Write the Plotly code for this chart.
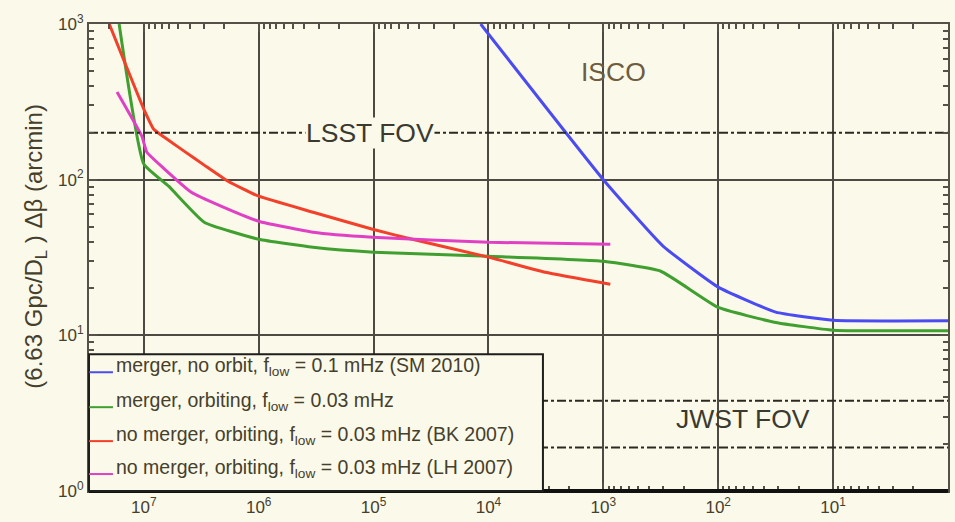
import math
import plotly.graph_objects as go

# Black-hole mass M (x) and localization scale (y) for each model
blue_x = [1.17e4, 1.0e3, 3.04e2, 1.0e2, 3.16e1, 1.0e1, 1.0]
blue_y = [1000, 100, 37.6, 20.4, 14.1, 12.5, 12.4]

green_x = [1.64e7, 1.0e7, 6.08e6, 2.98e6, 1.0e6, 3.36e5, 1.0e5, 1.0e4, 1.0e3, 3.16e2, 1.0e2, 3.16e1, 1.0e1, 1.0]
green_y = [1000, 126, 90.8, 53.3, 41.4, 36.8, 34.2, 32.2, 29.9, 25.8, 15.1, 12.1, 10.8, 10.7]

red_x = [2.0e7, 1.0e7, 8.2e6, 6.08e6, 4.43e6, 2.98e6, 1.85e6, 1.0e6, 3.36e5, 1.02e5, 4.6e4, 1.0e4, 3.2e3, 8.7e2]
red_y = [1000, 284, 211, 179, 152, 124, 97.7, 78.3, 61.8, 48.0, 41.4, 31.8, 25.4, 21.3]

pink_x = [1.71e7, 1.04e7, 9.4e6, 6.6e6, 3.86e6, 2.13e6, 1.0e6, 3.36e5, 1.02e5, 1.0e4, 8.7e2]
pink_y = [366, 190, 150, 117, 83, 67.6, 54.1, 45.9, 42.6, 39.6, 38.5]

series_names = [
    "merger, no orbit, f<sub>low</sub> = 0.1 mHz (SM 2010)",
    "merger, orbiting, f<sub>low</sub> = 0.03 mHz",
    "no merger, orbiting, f<sub>low</sub> = 0.03 mHz (BK 2007)",
    "no merger, orbiting, f<sub>low</sub> = 0.03 mHz (LH 2007)",
]
series_colors = ["#4b4bf2", "#3f9f2f", "#f2402a", "#e040c4"]

# Field-of-view reference levels (arcmin)
lsst_fov = 200
jwst_fov = [3.8, 1.9]

x_min, x_max = 3e7, 1.0
x_tick_exp = [7, 6, 5, 4, 3, 2, 1, 0]
y_tick_exp = [0, 1, 2, 3]

ink = "#45402c"
bg = "#fbf9ea"
font_family = "Liberation Sans, Arial, sans-serif"

fig = go.Figure()

for xs, ys, name, col in zip(
    [blue_x, green_x, red_x, pink_x],
    [blue_y, green_y, red_y, pink_y],
    series_names, series_colors,
):
    fig.add_trace(go.Scatter(x=xs, y=ys, mode="lines", name=name,
                             line=dict(color=col, width=3, shape="spline", smoothing=0.4),
                             showlegend=False))

for level in [lsst_fov] + jwst_fov:
    fig.add_trace(go.Scatter(x=[x_min, x_max], y=[level, level], mode="lines",
                             line=dict(color="#2a2a22", width=2, dash="dashdot"),
                             showlegend=False, hoverinfo="skip"))

def minor_vals(lo, hi):
    return [m * 10 ** e for e in range(lo, hi) for m in range(2, 10)]

axis_common = dict(
    type="log", showline=True, linecolor="#555048", linewidth=2, mirror="allticks",
    ticks="inside", ticklen=8, tickcolor="#555048", tickwidth=1.5,
    showgrid=True, gridcolor="#4d4a44", gridwidth=2, zeroline=False,
    tickfont=dict(family=font_family, size=17, color=ink),
)

fig.update_xaxes(
    **axis_common,
    range=[math.log10(x_min), math.log10(x_max)],
    tickvals=[10 ** e for e in x_tick_exp],
    ticktext=[f"10<sup>{e}</sup>" for e in x_tick_exp],
    minor=dict(tickvals=minor_vals(0, 8), ticks="inside", ticklen=5,
               tickcolor="#555048", showgrid=False),
)
fig.update_yaxes(
    **axis_common,
    range=[0, 3],
    tickvals=[10 ** e for e in y_tick_exp],
    ticktext=[f"10<sup>{e}</sup>" for e in y_tick_exp],
    minor=dict(tickvals=minor_vals(0, 3), ticks="inside", ticklen=5,
               tickcolor="#555048", showgrid=False),
)

# Heavy bottom frame line
fig.add_shape(type="line", xref="paper", yref="paper", x0=0, x1=1, y0=0, y1=0,
              line=dict(color="#111111", width=4), layer="above")

W, H, L, B = 861.0, 468.0, 89.0, 492.0
def px(xp):
    return (xp - L) / W
def py(yp):
    return (B - yp) / H

# Vertical axis title
fig.add_annotation(xref="paper", yref="paper", x=px(35), y=py(247),
                   text="(6.63 Gpc/D<sub>L</sub> ) \u0394\u03b2 (arcmin)", textangle=-90,
                   showarrow=False, xanchor="center", yanchor="middle",
                   font=dict(family=font_family, size=24, color=ink))

# Text labels on the plot
label_font = dict(family=font_family, size=26.5, color="#3b3a30")
fig.add_annotation(x=5.034, y=math.log10(lsst_fov), text="LSST FOV", showarrow=False,
                   font=label_font, bgcolor=bg, borderpad=0)
fig.add_annotation(x=2.914, y=2.691, text="ISCO", showarrow=False,
                   font=dict(family=font_family, size=26.5, color="#6e5c40"))
fig.add_annotation(x=1.784, y=0.46, text="JWST FOV", showarrow=False,
                   font=label_font)

# Legend panel in the lower-left corner
fig.add_shape(type="rect", xref="paper", yref="paper",
              x0=0, x1=px(544), y0=0, y1=py(355),
              fillcolor=bg, line=dict(color="#1e1e1a", width=2), layer="above")
row_y = [373, 408, 442, 475]
for name, col, yy in zip(series_names, series_colors, row_y):
    fig.add_shape(type="line", xref="paper", yref="paper",
                  x0=px(89), x1=px(113), y0=py(yy), y1=py(yy),
                  line=dict(color=col, width=2), layer="above")
    fig.add_annotation(xref="paper", yref="paper", x=px(114), y=py(yy - 6),
                       xanchor="left", yanchor="middle", text=name, showarrow=False,
                       font=dict(family=font_family, size=19.5, color=ink))

fig.update_layout(
    width=955, height=522,
    margin=dict(l=89, r=5, t=24, b=30),
    paper_bgcolor=bg, plot_bgcolor=bg,
    showlegend=False,
)

fig.write_html("out.html")
